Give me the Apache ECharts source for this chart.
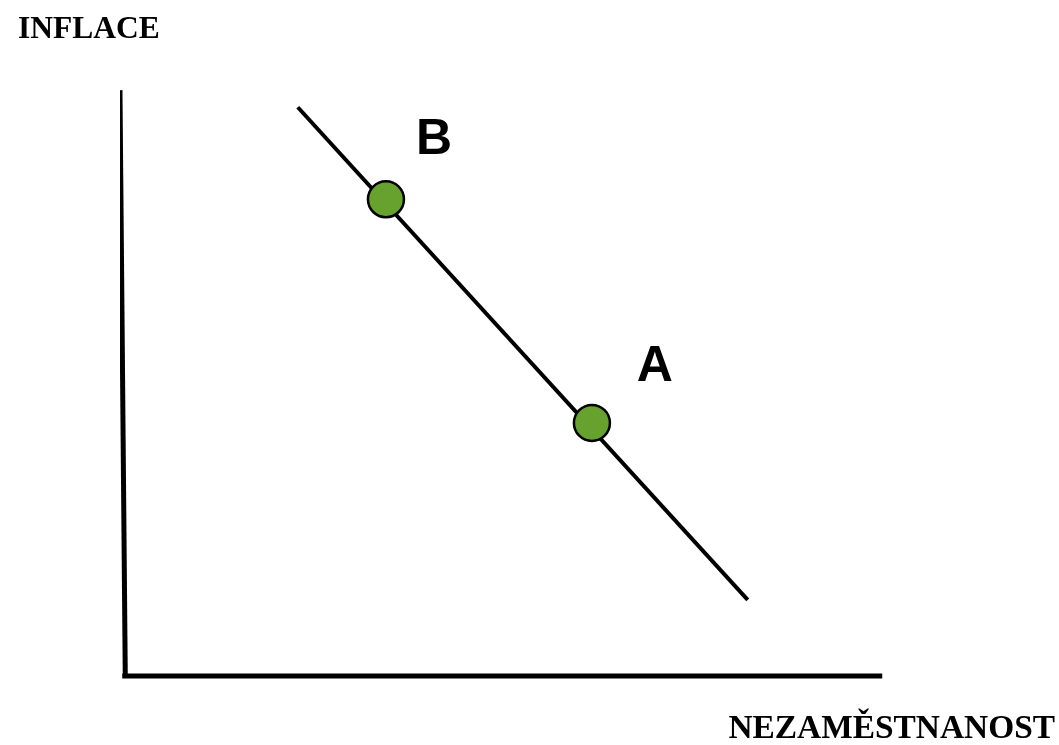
<!DOCTYPE html>
<html>
<head>
    <meta charset="utf-8">
    <title>Phillipsova křivka</title>
    <script src="https://cdn.jsdelivr.net/npm/echarts@6/dist/echarts.min.js"></script>
</head>
<body style="margin:0;background-color:#fff;">
    <div id="main" style="width:1059px;height:745px;"></div>
    <script type="text/javascript">
        // osy (v jednotkách grafu 0..100)
        var yAxisLine = [[0.3, 0], [-0.4, 99.3]];
        var xAxisLine = [[-0.1, 0], [99.9, 0]];

        // Phillipsova křivka
        var curve = [[23.0, 96.4], [82.2, 12.9]];

        // body
        var pointNames = ['B', 'A'];
        var pointX = [34.6, 61.7];
        var pointY = [80.8, 42.9];
        var labelOffsets = [[48, -59], [63, -56]];

        var pointData = pointNames.map(function (n, i) {
            return {
                name: n,
                value: [pointX[i], pointY[i]],
                label: { offset: labelOffsets[i] }
            };
        });

        var myChart = echarts.init(document.getElementById('main'));

        var option = {
            animation: false,
            title: {
                text: 'INFLACE',
                left: 13,
                top: 9,
                textStyle: {
                    fontFamily: 'Liberation Serif',
                    fontWeight: 'bold',
                    fontSize: 31.5,
                    color: '#000'
                }
            },
            graphic: [{
                type: 'text',
                right: 4,
                top: 713,
                style: {
                    text: 'NEZAMĚSTNANOST',
                    font: 'bold 33.4px "Liberation Serif"',
                    fill: '#000'
                }
            }],
            grid: {
                left: 123,
                width: 760,
                bottom: 69,
                height: 590
            },
            xAxis: {
                type: 'value',
                min: 0,
                max: 100,
                show: false
            },
            yAxis: {
                type: 'value',
                min: 0,
                max: 100,
                show: false
            },
            series: [
                {
                    type: 'line',
                    data: yAxisLine,
                    symbol: 'none',
                    lineStyle: { color: '#000', width: 5 },
                    clip: false
                },
                {
                    type: 'line',
                    data: xAxisLine,
                    symbol: 'none',
                    lineStyle: { color: '#000', width: 5 },
                    clip: false
                },
                {
                    type: 'line',
                    data: curve,
                    symbol: 'none',
                    lineStyle: { color: '#000', width: 4 },
                    clip: false
                },
                {
                    type: 'scatter',
                    data: pointData,
                    z: 10,
                    symbolSize: 36,
                    itemStyle: {
                        color: '#67a22f',
                        borderColor: '#000',
                        borderWidth: 2.5,
                        opacity: 1
                    },
                    label: {
                        show: true,
                        position: 'inside',
                        formatter: '{b}',
                        fontFamily: 'Liberation Sans',
                        fontWeight: 'bold',
                        fontSize: 50,
                        color: '#000'
                    },
                    clip: false
                }
            ]
        };

        myChart.setOption(option);
    </script>
</body>
</html>
